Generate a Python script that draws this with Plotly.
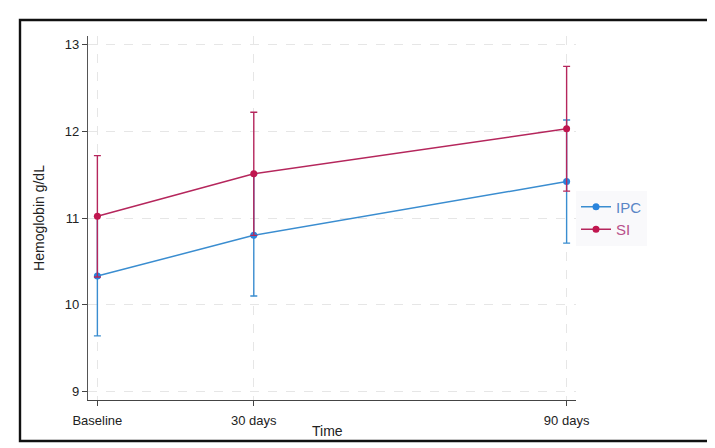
import plotly.graph_objects as go

# Data
time_days = [0, 30, 90]
tick_labels = ["Baseline", "30 days", "90 days"]
ipc_mean = [10.33, 10.80, 11.42]
ipc_sd = [0.69, 0.70, 0.71]
si_mean = [11.02, 11.51, 12.03]
si_sd = [0.70, 0.71, 0.72]

blue = "#3a8dd0"
red = "#b5265c"
font_family = "Liberation Sans, Arial, sans-serif"

fig = go.Figure()
fig.add_trace(go.Scatter(
    x=time_days, y=ipc_mean, mode="lines+markers",
    name="<span style='color:#5a86c6'>IPC</span>",
    line=dict(color=blue, width=1.5),
    marker=dict(color="#2a84dc", size=7),
    error_y=dict(type="data", array=ipc_sd, symmetric=True, color=blue, thickness=1.4, width=3.5),
))
fig.add_trace(go.Scatter(
    x=time_days, y=si_mean, mode="lines+markers",
    name="<span style='color:#b8508a'>SI</span>",
    line=dict(color=red, width=1.5),
    marker=dict(color="#c0164f", size=7),
    error_y=dict(type="data", array=si_sd, symmetric=True, color=red, thickness=1.4, width=3.5),
))

# plot area in pixels: x 80..568, y 28..392
L, R, T, B = 80, 568, 28, 392
W, H = 715, 448
pw, ph = R - L, B - T

def px(x):
    return (x - L) / pw

def py(y):
    return (B - y) / ph

fig.update_layout(
    width=W, height=H,
    margin=dict(l=L, r=W - R, t=T, b=H - B),
    paper_bgcolor="white", plot_bgcolor="white",
    font=dict(family=font_family, size=13, color="#222222"),
    showlegend=True,
    legend=dict(x=1.0, y=0.5, xanchor="left", yanchor="middle",
                bgcolor="rgba(246,246,250,0.7)", borderwidth=0,
                tracegroupgap=4,
                font=dict(size=15, family=font_family)),
    xaxis=dict(
        range=[-1.8, 91.8], tickmode="array", tickvals=time_days, ticktext=tick_labels,
        showgrid=True, gridcolor="#e6e6e6", griddash="dash", gridwidth=1,
        showline=True, linecolor="#444444", linewidth=1.2,
        ticks="outside", ticklen=5, tickcolor="#444444",
        ticklabelstandoff=3,
        zeroline=False,
        tickfont=dict(size=13),
    ),
    yaxis=dict(
        range=[8.9, 13.1], tickvals=[9, 10, 11, 12, 13],
        showgrid=True, gridcolor="#e6e6e6", griddash="dash", gridwidth=1,
        showline=True, linecolor="#555555", linewidth=1.2,
        ticks="outside", ticklen=5, tickcolor="#444444",
        zeroline=False,
        title=dict(text="Hemoglobin g/dL", standoff=16, font=dict(size=14)),
        tickfont=dict(size=13),
    ),
    annotations=[dict(text="Time", xref="paper", yref="paper",
                      x=px(319), y=py(423), xanchor="center", yanchor="middle",
                      showarrow=False, font=dict(size=14, color="#222222"))],
    shapes=[dict(type="rect", xref="paper", yref="paper",
                 x0=px(12), x1=px(702), y0=py(433), y1=py(12),
                 line=dict(color="#111111", width=2.4), fillcolor="rgba(0,0,0,0)",
                 layer="above")],
)

fig.write_html("out.html")
